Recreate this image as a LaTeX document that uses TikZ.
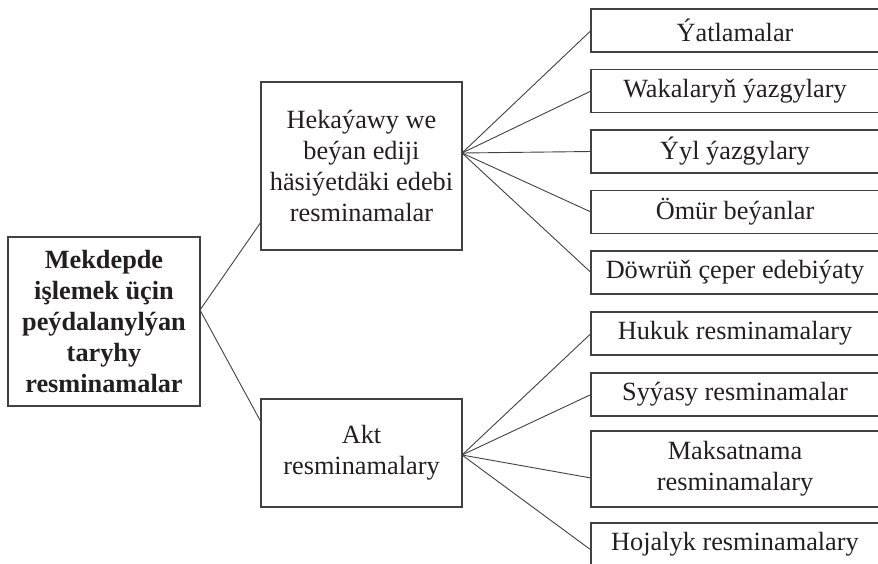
\documentclass[tikz,border=0pt]{standalone}
\usepackage{fontspec}
\setmainfont{Liberation Serif}
\usetikzlibrary{positioning,calc}
\definecolor{inkgray}{RGB}{35,31,32}
\definecolor{edgegray}{RGB}{65,65,65}

\begin{document}
\begin{tikzpicture}[x=1pt, y=-1pt,
    box/.style={draw=edgegray, line width=1.3pt, outer sep=0pt, inner sep=2pt, minimum width=#1, align=center, text=inkgray, font=\fontsize{26.3}{31}\selectfont},
    leaf/.style={box=288pt, minimum height=43pt},
    link/.style={draw=edgegray, line width=0.9pt}
]
\useasboundingbox (0,0) rectangle (878,563);

\node[box=192pt, minimum height=169pt, font=\fontsize{26.3}{31}\selectfont\bfseries] (main) at (104,321.5) {Mekdepde\\işlemek üçin\\peýdalanylýan\\taryhy\\resminamalar};
\node[box=201pt, minimum height=168pt] (hekaya) at (361.5,166) {Hekaýawy we\\beýan ediji\\häsiýetdäki edebi\\resminamalar};
\node[box=201pt, minimum height=108pt] (akt) at (361.5,453) {Akt\\resminamalary};

\node[leaf] (yatlama) at (735,30.5) {Ýatlamalar};
\node[leaf, below=17.5pt of yatlama] (wakalar) {Wakalaryň ýazgylary};
\node[leaf, below=17.5pt of wakalar] (yyl) {Ýyl ýazgylary};
\node[leaf, below=17.5pt of yyl] (omur) {Ömür beýanlar};
\node[leaf, below=17.5pt of omur] (dowur) {Döwrüň çeper edebiýaty};
\node[leaf, below=18pt of dowur] (hukuk) {Hukuk resminamalary};
\node[leaf, below=18pt of hukuk] (syyasy) {Syýasy resminamalar};
\node[leaf, minimum height=76pt, below=15pt of syyasy] (maksat) {Maksatnama\\resminamalary};
\node[leaf, below=16pt of maksat] (hojalyk) {Hojalyk resminamalary};

% fan-out points
\coordinate (mainout) at ($(main.east)+(0,-11.5)$);
\coordinate (hekout) at ($(hekaya.east)+(0,-13)$);
\coordinate (aktout) at ($(akt.east)+(0,2)$);

\draw[link] (mainout) -- ($(hekaya.west)+(0,56)$);
\draw[link] (mainout) -- ($(akt.west)+(0,-31)$);

\draw[link] (hekout) -- (yatlama.west);
\draw[link] (hekout) -- (wakalar.west);
\draw[link] (hekout) -- (yyl.west);
\draw[link] (hekout) -- (omur.west);
\draw[link] (hekout) -- (dowur.west);

\draw[link] (aktout) -- (hukuk.west);
\draw[link] (aktout) -- (syyasy.west);
\draw[link] (aktout) -- ($(maksat.west)+(0,9)$);
\draw[link] (aktout) -- ($(hojalyk.west)+(0,5.5)$);
\end{tikzpicture}
\end{document}
